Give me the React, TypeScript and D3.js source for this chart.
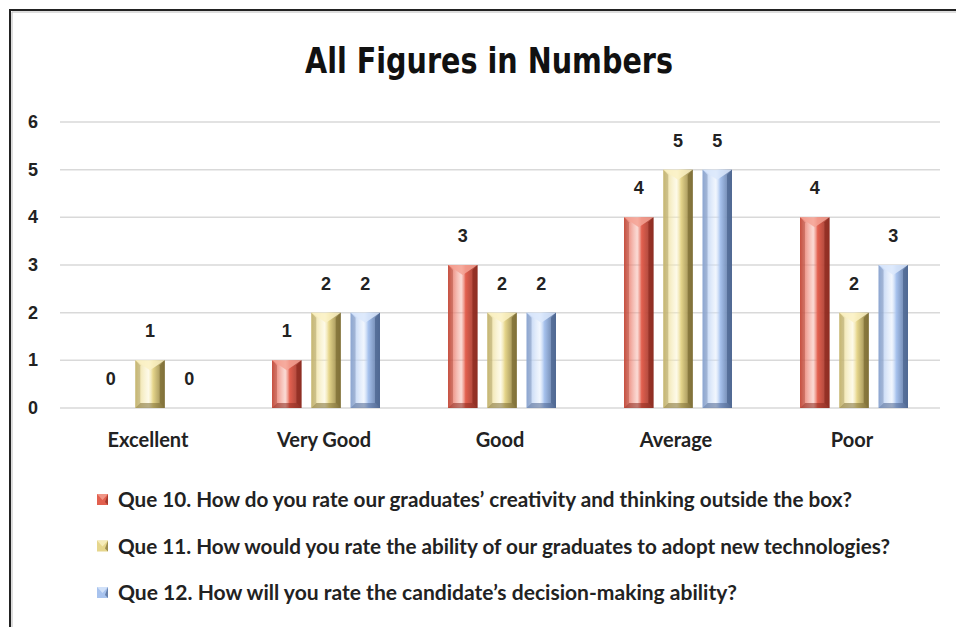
import React from "react";
import * as d3 from "d3";

const categories = ["Excellent", "Very Good", "Good", "Average", "Poor"];
const seriesNames = [
  "Que 10.  How do you rate our graduates\u2019 creativity and thinking outside the box?",
  "Que 11.  How would you rate the ability of our graduates to adopt new technologies?",
  "Que 12.  How will you rate the candidate\u2019s decision-making ability?",
];
const que10 = [0, 1, 3, 4, 4];
const que11 = [1, 2, 2, 5, 2];
const que12 = [0, 2, 2, 5, 3];
const yTicks = [0, 1, 2, 3, 4, 5, 6];
// legend text widths as measured on the picture
const legendWidths = [734, 772, 619];

const palette = [
  { base: "#e2604f", light: "#f4a294", dark: "#8c2a1f" },
  { base: "#e6d68c", light: "#faf1c4", dark: "#7e6e34" },
  { base: "#a8c3ee", light: "#dbe8fb", dark: "#4c6590" },
];

const W = 956;
const H = 627;
const left = 60;
const right = 940;
const top = 122;
const bottom = 408;

export default function App() {
  const values = [que10, que11, que12];
  const x = d3.scaleBand<string>().domain(categories).range([left, right]);
  const x1 = d3
    .scaleBand<number>()
    .domain([0, 1, 2])
    .range([36, x.bandwidth() - 32])
    .paddingInner(0.25);
  const y = d3.scaleLinear().domain([0, 6]).range([bottom, top]);
  const bw = x1.bandwidth();

  const bevelBar = (bx: number, by: number, w: number, h: number, c: typeof palette[0], key: string, gi: number) => {
    if (h <= 0) return null;
    const b = Math.min(5, h / 2);
    const v = Math.min(10, h);
    return (
      <g key={key}>
        <rect x={bx} y={by} width={w} height={h} fill={`url(#g${gi})`} />
        <polygon
          points={`${bx},${by} ${bx + w},${by} ${bx + w / 2},${by + v}`}
          fill={c.light}
          opacity={0.85}
        />
        <polygon
          points={`${bx + w},${by} ${bx + w},${by + h} ${bx + w - b},${by + h - b} ${bx + w - b},${by + v / 2}`}
          fill={c.dark}
          opacity={0.75}
        />
        <polygon
          points={`${bx},${by + h} ${bx + w},${by + h} ${bx + w - b},${by + h - b} ${bx + b},${by + h - b}`}
          fill={c.dark}
          opacity={0.55}
        />
        <polygon
          points={`${bx},${by} ${bx + b},${by + v / 2} ${bx + b},${by + h - b} ${bx},${by + h}`}
          fill={c.dark}
          opacity={0.3}
        />
      </g>
    );
  };

  return (
    <svg
      width={W}
      height={H}
      style={{ position: "fixed", left: 0, top: 0, background: "#fff" }}
    >
      <defs>
        {palette.map((c, i) => (
          <linearGradient key={i} id={`g${i}`} x1="0" x2="1" y1="0" y2="0">
            <stop offset="0" stopColor={c.base} />
            <stop offset="0.45" stopColor={c.light} stopOpacity={0.4} />
            <stop offset="0.6" stopColor={c.base} />
            <stop offset="1" stopColor={c.dark} stopOpacity={0.9} />
          </linearGradient>
        ))}
      </defs>
      <rect x={0} y={0} width={W} height={H} fill="#fff" />
      {/* frame */}
      <path d={`M10,${H} V10 H${W}`} fill="none" stroke="#222" strokeWidth={2} />
      <path d={`M12,${H} V12 H${W}`} fill="none" stroke="#bbb" strokeWidth={1} />

      <text
        x={489}
        y={73}
        textAnchor="middle"
        fontFamily="'DejaVu Sans Condensed', 'Liberation Sans Narrow', sans-serif"
        fontWeight="bold"
        fontSize={36}
        textLength={368}
        lengthAdjust="spacingAndGlyphs"
        fill="#111"
      >
        All Figures in Numbers
      </text>

      {yTicks.map((t) => (
        <g key={t}>
          <line x1={left} x2={right} y1={y(t)} y2={y(t)} stroke="#d9d9d9" strokeWidth={1.5} />
          <text
            x={33}
            y={y(t) + 6}
            textAnchor="middle"
            fontFamily="'Liberation Sans', Arial, sans-serif"
            fontWeight="bold"
            fontSize={18}
            fill="#222"
          >
            {t}
          </text>
        </g>
      ))}

      {categories.map((cat, ci) => (
        <g key={cat}>
          {values.map((arr, si) => {
            const bx = (x(cat) ?? 0) + (x1(si) ?? 0);
            const by = y(arr[ci]);
            return (
              <g key={si}>
                {bevelBar(bx, by, bw, bottom - by, palette[si], `${cat}-${si}`, si)}
                <text
                  x={bx + bw / 2}
                  y={by - 23}
                  textAnchor="middle"
                  fontFamily="'Liberation Sans', Arial, sans-serif"
                  fontWeight="bold"
                  fontSize={18}
                  fill="#222"
                >
                  {arr[ci]}
                </text>
              </g>
            );
          })}
          <text
            x={(x(cat) ?? 0) + x.bandwidth() / 2}
            y={447}
            textAnchor="middle"
            fontFamily="Lato, 'Open Sans', sans-serif"
            fontWeight="bold"
            fontSize={20}
            fill="#222"
          >
            {cat}
          </text>
        </g>
      ))}

      {seriesNames.map((name, i) => {
        const ly = 500 + i * 46.5;
        const c = palette[i];
        return (
          <g key={i}>
            <rect x={97} y={ly - 6} width={11} height={11} fill={c.base} />
            <polygon points={`${97},${ly - 6} ${108},${ly - 6} ${102.5},${ly}`} fill={c.light} opacity={0.8} />
            <polygon points={`${108},${ly - 6} ${108},${ly + 5} ${105},${ly + 2}`} fill={c.dark} opacity={0.7} />
            <text
              x={118}
              y={ly + 7}
              fontFamily="Lato, 'Open Sans', sans-serif"
              fontWeight="bold"
              fontSize={20}
              textLength={legendWidths[i]}
              lengthAdjust="spacingAndGlyphs"
              fill="#222"
            >
              {name}
            </text>
          </g>
        );
      })}
    </svg>
  );
}
